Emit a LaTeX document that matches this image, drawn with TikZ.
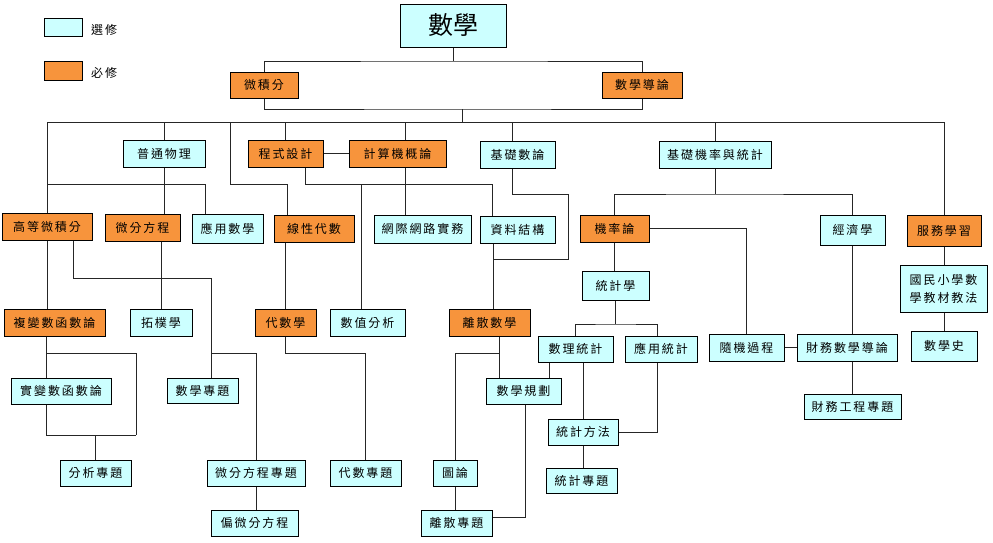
\documentclass[tikz,border=0pt]{standalone}
\usepackage{fontspec}
\newfontfamily\cjk{Noto Sans CJK TC}[LetterSpace=16]
\newfontfamily\cjkt{Noto Sans CJK TC}
\definecolor{opt}{RGB}{204,255,255}
\definecolor{req}{RGB}{247,148,60}
\tikzset{
  boxbase/.style={draw=black, line width=1pt, inner sep=0pt, font=\cjk\fontsize{12}{18}\selectfont, align=center},
  optbox/.style={boxbase, fill=opt},
  reqbox/.style={boxbase, fill=req},
  conn/.style={draw=black!85, line width=0.9pt}
}
\newcommand\mybox[7]{\node[#1, minimum width={#5-#3}, minimum height={#6-#4}] (#2) at ({(#3+#5)/2},{(#4+#6)/2}) {#7};}
\begin{document}
\begin{tikzpicture}[x=1pt,y=-1pt]
\useasboundingbox (0,0) rectangle (993,542);
% legend
\mybox{optbox}{lg1}{44}{18}{82}{36}{}
\mybox{reqbox}{lg2}{44}{61}{82}{80}{}
\node[anchor=west, font=\cjk\fontsize{12}{14}\selectfont, inner sep=0pt] (lt1) at (91,30) {選修};
\node[anchor=west, font=\cjk\fontsize{12}{14}\selectfont, inner sep=0pt] (lt2) at (91,73) {必修};
% nodes
\mybox{optbox, font=\cjkt\fontsize{25}{28}\selectfont}{t}{400}{4}{506}{47}{數學}
\mybox{reqbox}{calc}{230}{72}{298}{98}{微積分}
\mybox{reqbox}{intro}{602}{72}{682}{98}{數學導論}
\mybox{optbox}{phys}{123}{140}{205}{167}{普通物理}
\mybox{reqbox}{prog}{248}{140}{323}{167}{程式設計}
\mybox{reqbox}{cs}{349}{140}{446}{167}{計算機概論}
\mybox{optbox}{nt}{480}{141}{555}{168}{基礎數論}
\mybox{optbox}{ps}{659}{141}{771}{168}{基礎機率與統計}
\mybox{reqbox}{adv}{2}{213}{92}{240}{高等微積分}
\mybox{reqbox}{de}{105}{214}{180}{241}{微分方程}
\mybox{optbox}{app}{192}{214}{263}{243}{應用數學}
\mybox{reqbox}{lin}{274}{215}{354}{242}{線性代數}
\mybox{optbox}{net}{374}{215}{471}{243}{網際網路實務}
\mybox{optbox}{ds}{480}{216}{555}{243}{資料結構}
\mybox{reqbox}{prob}{580}{215}{649}{242}{機率論}
\mybox{optbox}{econ}{820}{215}{885}{245}{經濟學}
\mybox{reqbox}{svc}{907}{215}{981}{246}{服務學習}
\mybox{reqbox}{cx}{4}{309}{105}{336}{複變數函數論}
\mybox{optbox}{topo}{130}{309}{192}{336}{拓樸學}
\mybox{reqbox}{alg}{255}{309}{316}{336}{代數學}
\mybox{optbox}{num}{330}{309}{405}{336}{數值分析}
\mybox{reqbox}{disc}{449}{309}{530}{336}{離散數學}
\mybox{optbox}{stat}{582}{271}{649}{300}{統計學}
\mybox{optbox}{ms}{538}{336}{613}{362}{數理統計}
\mybox{optbox}{as}{625}{336}{697}{362}{應用統計}
\mybox{optbox}{sp}{709}{334}{784}{361}{隨機過程}
\mybox{optbox}{fm}{797}{334}{897}{361}{財務數學導論}
\mybox{optbox}{ele}{900}{265}{987}{312}{國民小學數\\學教材教法}
\mybox{optbox}{mh}{911}{331}{977}{361}{數學史}
\mybox{optbox}{rv}{11}{378}{111}{404}{實變數函數論}
\mybox{optbox}{mt}{167}{378}{238}{403}{數學專題}
\mybox{optbox}{mp}{486}{378}{561}{404}{數學規劃}
\mybox{optbox}{sm}{548}{419}{618}{445}{統計方法}
\mybox{optbox}{fe}{804}{394}{901}{419}{財務工程專題}
\mybox{optbox}{an}{60}{460}{131}{486}{分析專題}
\mybox{optbox}{dep}{207}{460}{305}{486}{微分方程專題}
\mybox{optbox}{algt}{330}{460}{401}{486}{代數專題}
\mybox{optbox}{gt}{433}{460}{477}{486}{圖論}
\mybox{optbox}{stt}{546}{468}{617}{493}{統計專題}
\mybox{optbox}{pde}{211}{510}{298}{536}{偏微分方程}
\mybox{optbox}{dt}{421}{510}{492}{536}{離散專題}
% coordinates
\coordinate (bt) at (455,61);
\coordinate (bb) at (462,109);
\coordinate (hbar) at (462,122);
\coordinate (hl) at (47,122);
\coordinate (hr) at (944,122);
\coordinate (p1) at (230,122);
\coordinate (p2) at (287,184);
\coordinate (q1) at (47,184);
\coordinate (q2) at (205,184);
\coordinate (r1) at (305,184);
\coordinate (r2) at (492,184);
\coordinate (r3) at (361,184);
\coordinate (s1) at (568,194);
\coordinate (s2) at (493,259);
\coordinate (u) at (716,194);
\coordinate (v1) at (211,278);
\coordinate (v2) at (211,353);
\coordinate (w1) at (365,353);
\coordinate (y1) at (615,324);
\coordinate (z1) at (46,353);
\coordinate (z2) at (136,435);
\coordinate (d1) at (499,353);
% connectors
\draw[conn] (t.south) -- (t.south |- bt);
\draw[conn] (calc.north) |- (bt) -| (intro.north);
\draw[conn] (calc.south) |- (bb) -| (intro.south);
\draw[conn] (bb) -- (hbar);
\draw[conn] (hl) -- (hr);
\draw[conn] (hl) -- (hl |- adv.north);
\draw[conn] (phys.north |- hl) -- (phys.north);
\draw[conn] (p1) |- (p2) -- (p2 |- lin.north);
\draw[conn] (prog.north |- hl) -- (prog.north);
\draw[conn] ([xshift=7.5pt]cs.north |- hl) -- ([xshift=7.5pt]cs.north);
\draw[conn] ([xshift=-5.5pt]nt.north |- hl) -- ([xshift=-5.5pt]nt.north);
\draw[conn] (ps.north |- hl) -- (ps.north);
\draw[conn] (hr) -- (hr |- svc.north);
\draw[conn] (prog.east) -- (cs.west);
\draw[conn] (q1) -- (q2) -- (q2 |- app.north);
\draw[conn] (phys.south) -- (phys.south |- de.north);
\draw[conn] (r1 |- prog.south) -- (r1) -- (r2) -- (r2 |- ds.north);
\draw[conn] (r3) -- (r3 |- num.north);
\draw[conn] ([xshift=7.5pt]cs.south) -- ([xshift=7.5pt]cs.south |- net.north);
\draw[conn] ([xshift=-5.5pt]nt.south) |- (s1) |- (s2);
\draw[conn] (s2 |- ds.south) -- (s2 |- disc.north);
\draw[conn] (ps.south) -- (ps.south |- u);
\draw[conn] (prob.north) |- (u) -| (econ.north);
% row 3 down
\draw[conn] (adv.south) -- (adv.south |- cx.north);
\draw[conn] ([xshift=26pt]adv.south) |- (v1) -- (v1 |- mt.north);
\draw[conn] (v2) -| (dep.north);
\draw[conn] (dep.south) -- (dep.south |- pde.north);
\draw[conn] (de.south -| topo.north) -- (topo.north);
\draw[conn] (lin.south -| alg.north) -- (alg.north);
\draw[conn] (alg.south) |- (w1) -- (w1 |- algt.north);
\draw[conn] (prob.east) -| (sp.north);
\draw[conn] (prob.south) -- (prob.south |- stat.north);
\draw[conn] (stat.south) -- (stat.south |- y1);
\draw[conn] (ms.north) |- (y1) -| ([xshift=-4pt]as.north);
\draw[conn] ([xshift=-26.5pt]ms.south) -- ([xshift=-26.5pt]ms.south |- mp.north);
\draw[conn] (sm.north |- ms.south) -- (sm.north);
\draw[conn] ([xshift=-4pt]as.south) |- (sm.east);
\draw[conn] (sm.south) -- (sm.south |- stt.north);
\draw[conn] (sp.east) -- (fm.west);
\draw[conn] (econ.south) -- (econ.south |- fm.north);
\draw[conn] (fm.south -| econ.south) -- (econ.south |- fe.north);
\draw[conn] (svc.south) -- (svc.south |- ele.north);
\draw[conn] (ele.south -| svc.south) -- (svc.south |- mh.north);
\draw[conn] (z1 |- cx.south) -- (z1 |- rv.north);
\draw[conn] (z1) -| (z2);
\draw[conn] (z1 |- rv.south) |- (z2);
\draw[conn] (an.north) -- (an.north |- z2);
\draw[conn] (d1 |- disc.south) -- (d1 |- mp.north);
\draw[conn] (gt.north) |- (d1);
\draw[conn] ([xshift=2pt]mp.south) |- ([yshift=6pt]dt.east);
\draw[conn] (gt.south) -- (gt.south |- dt.north);
\end{tikzpicture}
\end{document}
